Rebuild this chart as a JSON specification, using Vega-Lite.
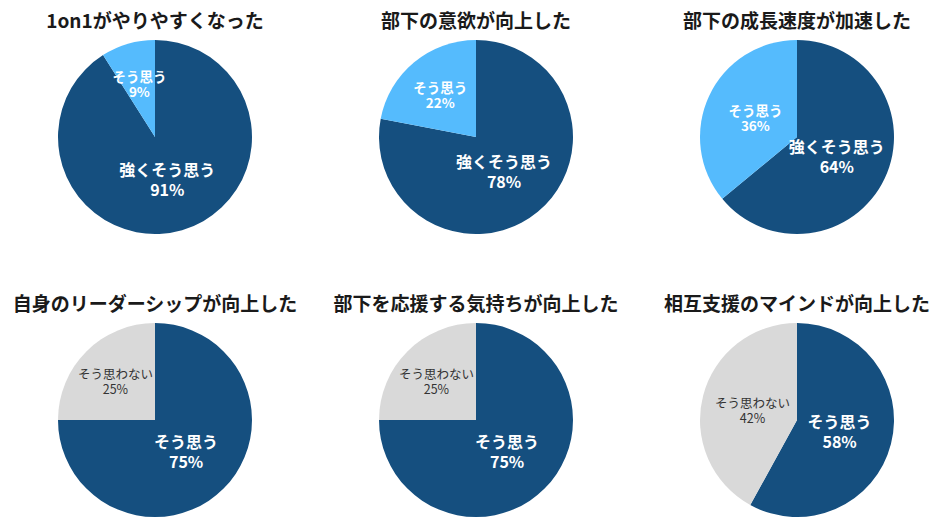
{
  "$schema": "https://vega.github.io/schema/vega-lite/v6.json",
  "description": "1on1 survey results, six pie charts",
  "background": "white",
  "padding": {"left": 12, "top": 13, "right": 0, "bottom": 0},
  "data": {
    "values": [
      {"q": "1on1がやりやすくなった", "answer": "強くそう思う", "pct": 91},
      {"q": "1on1がやりやすくなった", "answer": "そう思う", "pct": 9},
      {"q": "部下の意欲が向上した", "answer": "強くそう思う", "pct": 78},
      {"q": "部下の意欲が向上した", "answer": "そう思う", "pct": 22},
      {"q": "部下の成長速度が加速した", "answer": "強くそう思う", "pct": 64},
      {"q": "部下の成長速度が加速した", "answer": "そう思う", "pct": 36},
      {"q": "自身のリーダーシップが向上した", "answer": "そう思う", "pct": 75},
      {"q": "自身のリーダーシップが向上した", "answer": "そう思わない", "pct": 25},
      {"q": "部下を応援する気持ちが向上した", "answer": "そう思う", "pct": 75},
      {"q": "部下を応援する気持ちが向上した", "answer": "そう思わない", "pct": 25},
      {"q": "相互支援のマインドが向上した", "answer": "そう思う", "pct": 58},
      {"q": "相互支援のマインドが向上した", "answer": "そう思わない", "pct": 42}
    ]
  },
  "transform": [
    {"calculate": "datum.answer + '\\n' + datum.pct + '%'", "as": "label"}
  ],
  "facet": {
    "field": "q",
    "type": "nominal",
    "title": null,
    "sort": [
      "1on1がやりやすくなった",
      "部下の意欲が向上した",
      "部下の成長速度が加速した",
      "自身のリーダーシップが向上した",
      "部下を応援する気持ちが向上した",
      "相互支援のマインドが向上した"
    ],
    "header": {
      "labelFont": "Noto Sans CJK JP",
      "labelFontSize": 19,
      "labelFontWeight": "bold",
      "labelColor": "#1a1a1a",
      "labelPadding": 8
    }
  },
  "columns": 3,
  "spacing": {"column": 35, "row": 62},
  "spec": {
    "width": 194,
    "height": 194,
    "encoding": {
      "theta": {"field": "pct", "type": "quantitative", "stack": true},
      "order": {"field": "pct", "type": "quantitative", "sort": "descending"}
    },
    "layer": [
      {
        "mark": {"type": "arc", "outerRadius": 97},
        "encoding": {
          "color": {
            "condition": [
              {"test": "datum.answer === 'そう思わない'", "value": "#d9d9d9"},
              {"test": "datum.pct >= 50", "value": "#154f7f"}
            ],
            "value": "#55bbfd"
          }
        }
      },
      {
        "mark": {
          "type": "text",
          "font": "Noto Sans CJK JP",
          "lineBreak": "\n",
          "radius": {"expr": "datum.pct >= 50 ? 44 : (datum.pct < 30 ? 56 : 46)"},
          "fontWeight": {"expr": "datum.answer === 'そう思わない' ? 'normal' : 'bold'"},
          "lineHeight": {"expr": "datum.pct >= 50 ? 20 : 15"},
          "dy": {"expr": "datum.pct >= 50 ? -8 : -5"}
        },
        "encoding": {
          "text": {"field": "label"},
          "size": {
            "condition": [
              {"test": "datum.pct >= 50", "value": 16},
              {"test": "datum.answer === 'そう思わない'", "value": 12.5}
            ],
            "value": 13.5
          },
          "color": {
            "condition": {"test": "datum.answer === 'そう思わない'", "value": "#333333"},
            "value": "white"
          }
        }
      }
    ]
  },
  "config": {"view": {"stroke": null}}
}
